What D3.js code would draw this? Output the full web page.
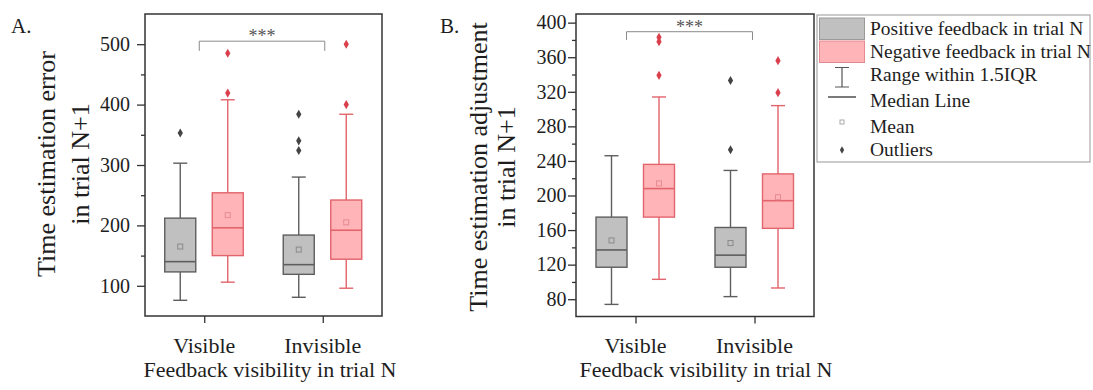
<!DOCTYPE html>
<html>
<head>
<meta charset="utf-8">
<script src="https://cdn.jsdelivr.net/npm/d3@7"></script>
<style>
  body { margin: 0; background: #fff; }
  svg text { font-family: 'Liberation Serif', 'Times New Roman', serif; fill: #1e1e1e; }
</style>
</head>
<body>
<svg id="main_svg" width="1093" height="390"></svg>
<script>
// categories and groups
const categories = ['Visible', 'Invisible'];
const groups = ['Positive feedback in trial N', 'Negative feedback in trial N'];

// box order: Visible/positive, Visible/negative, Invisible/positive, Invisible/negative
// panel A - time estimation error
const errLow = [76, 106, 81, 96];
const errQ1 = [123, 150, 119, 144];
const errMedian = [140, 196, 135, 192];
const errQ3 = [212, 254, 184, 242];
const errHigh = [303, 408, 280, 384];
const errMean = [165, 217, 160, 205];
const errOutliers = [[353], [419, 485], [324, 340, 384], [400, 500]];
const errTicks = [100, 200, 300, 400, 500];

// panel B - time estimation adjustment
const adjLow = [74, 103, 83, 93];
const adjQ1 = [117, 175, 117, 162];
const adjMedian = [137, 208, 131, 194];
const adjQ3 = [175, 236, 163, 225];
const adjHigh = [246, 314, 229, 304];
const adjMean = [148, 214, 145, 198];
const adjOutliers = [[], [339, 378, 383], [253, 333], [319, 356]];
const adjTicks = [80, 120, 160, 200, 240, 280, 320, 360, 400];

// legend labels
const legendLabels = [groups[0], groups[1], 'Range within 1.5IQR', 'Median Line', 'Mean', 'Outliers'];

const colors = {
    fill: ['#c0c0c0', '#ffb5b8'],
    stroke: ['#5e5e5e', '#e2646c'],
    mean: ['#8a8a8a', '#e58a90'],
    outlier: ['#444444', '#d9404c']
};

const svg = d3.select('#main_svg');

function style_axis(ax) {
    ax.select('.domain').remove();
    ax.selectAll('.tick line').attr('stroke', '#333').attr('stroke-width', 1.3);
}

function draw_panel(p) {
    let g = svg.append('g');

    let x = d3.scalePoint().domain(categories).range([p.left, p.right]).padding(0.5);
    let y = d3.scaleLinear().domain(p.domain).range([p.bottom, p.top]);
    let offset = [-24, 23.5];
    let box_w = 31;
    let cap_w = 14;

    // minor ticks
    let minor = d3.range(p.domain[0], p.domain[1], p.minor_step)
        .filter(v => v > p.domain[0] && !p.ticks.includes(v));
    let ax_minor = g.append('g')
        .attr('transform', 'translate(' + p.left + ',0)')
        .call(d3.axisLeft(y).tickValues(minor).tickSize(4).tickFormat(''));
    style_axis(ax_minor);

    // major ticks
    let ax_y = g.append('g')
        .attr('transform', 'translate(' + p.left + ',0)')
        .call(d3.axisLeft(y).tickValues(p.ticks).tickSize(8).tickFormat(''));
    style_axis(ax_y);

    let ax_x = g.append('g')
        .attr('transform', 'translate(0,' + p.bottom + ')')
        .call(d3.axisBottom(x).tickSize(7).tickFormat(''));
    style_axis(ax_x);

    // tick labels (serif, drawn from the same scales)
    g.selectAll('.ylab').data(p.ticks).enter()
        .append('text')
        .attr('class', 'ylab')
        .attr('x', p.left - 8 - p.label_pad)
        .attr('y', d => y(d))
        .attr('dy', '0.34em')
        .attr('text-anchor', 'end')
        .style('font-size', '20px')
        .text(d => d);

    g.selectAll('.xlab').data(categories).enter()
        .append('text')
        .attr('class', 'xlab')
        .attr('x', d => x(d))
        .attr('y', 353)
        .attr('text-anchor', 'middle')
        .style('font-size', '22px')
        .text(d => d);

    // frame
    g.append('rect')
        .attr('x', p.left).attr('y', p.top)
        .attr('width', p.right - p.left).attr('height', p.bottom - p.top)
        .attr('fill', 'none').attr('stroke', '#333').attr('stroke-width', 1.5);

    // boxes
    let boxes = d3.range(4).map(i => ({
        cx: x(categories[Math.floor(i / 2)]) + offset[i % 2],
        grp: i % 2,
        low: p.low[i], q1: p.q1[i], med: p.median[i], q3: p.q3[i], high: p.high[i],
        mean: p.mean[i], out: p.outliers[i]
    }));

    let bg = g.selectAll('.box').data(boxes).enter().append('g').attr('class', 'box');

    bg.append('line')
        .attr('x1', d => d.cx).attr('x2', d => d.cx)
        .attr('y1', d => y(d.high)).attr('y2', d => y(d.q3))
        .attr('stroke', d => colors.stroke[d.grp]).attr('stroke-width', 1.4);
    bg.append('line')
        .attr('x1', d => d.cx).attr('x2', d => d.cx)
        .attr('y1', d => y(d.q1)).attr('y2', d => y(d.low))
        .attr('stroke', d => colors.stroke[d.grp]).attr('stroke-width', 1.4);
    ['high', 'low'].forEach(k => {
        bg.append('line')
            .attr('x1', d => d.cx - cap_w / 2).attr('x2', d => d.cx + cap_w / 2)
            .attr('y1', d => y(d[k])).attr('y2', d => y(d[k]))
            .attr('stroke', d => colors.stroke[d.grp]).attr('stroke-width', 1.4);
    });

    bg.append('rect')
        .attr('x', d => d.cx - box_w / 2).attr('width', box_w)
        .attr('y', d => y(d.q3)).attr('height', d => y(d.q1) - y(d.q3))
        .attr('fill', d => colors.fill[d.grp])
        .attr('stroke', d => colors.stroke[d.grp]).attr('stroke-width', 1.4);

    bg.append('line')
        .attr('x1', d => d.cx - box_w / 2).attr('x2', d => d.cx + box_w / 2)
        .attr('y1', d => y(d.med)).attr('y2', d => y(d.med))
        .attr('stroke', d => colors.stroke[d.grp]).attr('stroke-width', 1.6);

    bg.append('rect')
        .attr('x', d => d.cx - 2.5).attr('y', d => y(d.mean) - 2.5)
        .attr('width', 5).attr('height', 5)
        .attr('fill', 'none').attr('stroke', d => colors.mean[d.grp]).attr('stroke-width', 1);

    bg.each(function (d) {
        d3.select(this).selectAll('.outlier').data(d.out).enter()
            .append('path')
            .attr('class', 'outlier')
            .attr('d', d3.symbol(d3.symbolDiamond, 24))
            .attr('transform', v => 'translate(' + d.cx + ',' + y(v) + ')')
            .attr('fill', colors.outlier[d.grp]);
    });

    // significance bracket
    let bx0 = x(categories[0]) + p.bracket_dx[0];
    let bx1 = x(categories[1]) + p.bracket_dx[1];
    let by = y(p.bracket_level);
    let bd = y(p.bracket_drop);
    g.append('path')
        .attr('d', 'M' + bx0 + ',' + bd + 'V' + by + 'H' + bx1 + 'V' + bd)
        .attr('fill', 'none').attr('stroke', '#8a8a8a').attr('stroke-width', 1);
    g.append('text')
        .attr('x', (bx0 + bx1) / 2).attr('y', by + 1)
        .attr('text-anchor', 'middle')
        .style('font-size', '18px').style('fill', '#555')
        .text('***');

    // panel letter
    g.append('text')
        .attr('x', p.letter_x).attr('y', 33)
        .style('font-size', '21px')
        .text(p.letter);

    // y title
    p.title.forEach((t, i) => {
        g.append('text')
            .attr('transform', 'translate(' + p.title_x[i] + ',' + p.title_y + ') rotate(-90)')
            .attr('text-anchor', 'middle')
            .style('font-size', '26px')
            .text(t);
    });

    // x title
    g.append('text')
        .attr('x', p.xtitle_x).attr('y', 377)
        .attr('text-anchor', 'middle')
        .style('font-size', '22px')
        .text('Feedback visibility in trial N');
}

draw_panel({
    left: 145, right: 382, top: 14, bottom: 316,
    domain: [50, 550], ticks: errTicks, minor_step: 50, label_pad: 7,
    low: errLow, q1: errQ1, median: errMedian, q3: errQ3, high: errHigh,
    mean: errMean, outliers: errOutliers,
    bracket_dx: [-5, 2], bracket_level: 505, bracket_drop: 489,
    letter: 'A.', letter_x: 11,
    title: ['Time estimation error', 'in trial N+1'], title_x: [55, 89], title_y: 164,
    xtitle_x: 270
});

draw_panel({
    left: 576, right: 814, top: 14, bottom: 316.5,
    domain: [60, 410], ticks: adjTicks, minor_step: 20, label_pad: 1.5,
    low: adjLow, q1: adjQ1, median: adjMedian, q3: adjQ3, high: adjHigh,
    mean: adjMean, outliers: adjOutliers,
    bracket_dx: [-9, -2], bracket_level: 389.5, bracket_drop: 380,
    letter: 'B.', letter_x: 440,
    title: ['Time estimation adjustment', 'in trial N+1'], title_x: [487, 515], title_y: 167,
    xtitle_x: 706
});

// legend
/////////////////////
let legend = svg.append('g').attr('id', 'legend');
legend.append('rect')
    .attr('x', 817).attr('y', 15).attr('width', 273).attr('height', 147)
    .attr('fill', '#fff').attr('stroke', '#a8a8a8').attr('stroke-width', 1.2);

let icon_x = 842;
let text_y = [35, 57.5, 81, 106.5, 132.5, 156];

[0, 1].forEach(i => {
    legend.append('rect')
        .attr('x', 819.5).attr('y', 18 + i * 23)
        .attr('width', 45).attr('height', 21.5)
        .attr('fill', colors.fill[i])
        .attr('stroke', i === 0 ? '#9a9a9a' : '#e58a90').attr('stroke-width', 1);
});

// whisker icon
legend.append('path')
    .attr('d', 'M' + (icon_x - 7) + ',67.5H' + (icon_x + 7) + 'M' + icon_x + ',67.5V87M' + (icon_x - 7) + ',87H' + (icon_x + 7))
    .attr('fill', 'none').attr('stroke', '#555').attr('stroke-width', 1.2);

// median icon
legend.append('line')
    .attr('x1', icon_x - 14).attr('x2', icon_x + 14)
    .attr('y1', 97).attr('y2', 97)
    .attr('stroke', '#333').attr('stroke-width', 1.3);

// mean icon
legend.append('rect')
    .attr('x', icon_x - 2).attr('y', 120).attr('width', 4).attr('height', 4)
    .attr('fill', 'none').attr('stroke', '#aaa').attr('stroke-width', 1);

// outlier icon
legend.append('path')
    .attr('d', d3.symbol(d3.symbolDiamond, 16))
    .attr('transform', 'translate(' + icon_x + ',150)')
    .attr('fill', '#444');

legend.selectAll('.legend_text').data(legendLabels).enter()
    .append('text')
    .attr('class', 'legend_text')
    .attr('x', 870)
    .attr('y', (d, i) => text_y[i])
    .style('font-size', '19.5px')
    .text(d => d);
</script>
</body>
</html>
